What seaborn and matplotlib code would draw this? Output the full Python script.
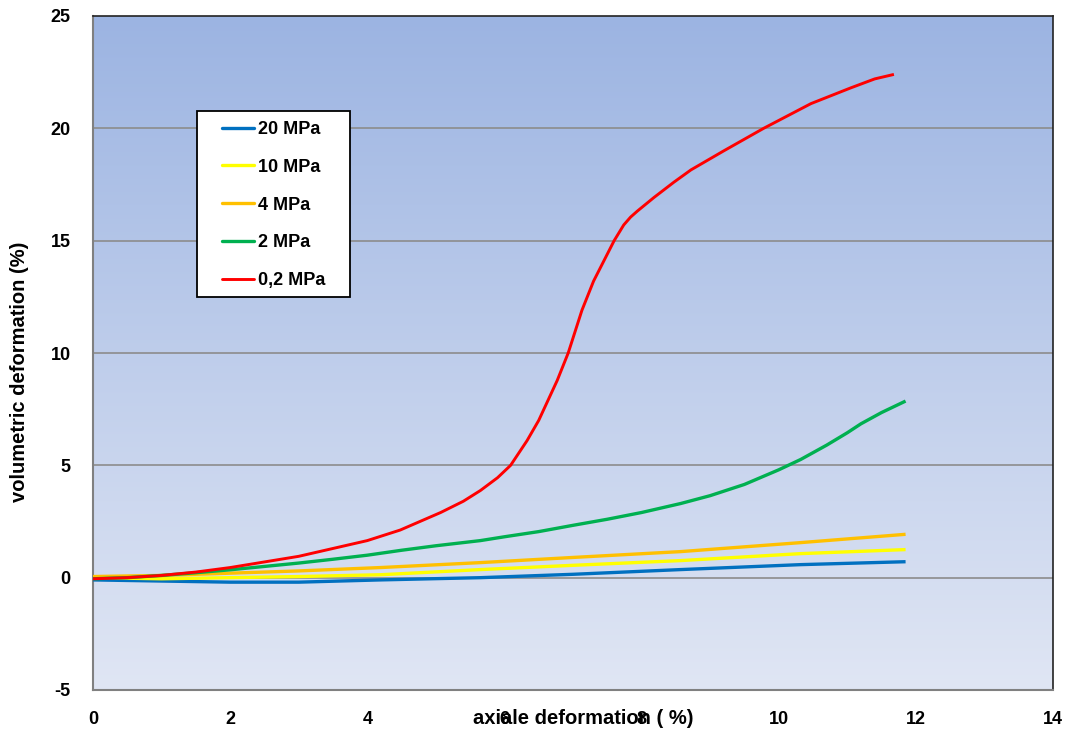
import numpy as np
import pandas as pd
import matplotlib
matplotlib.use("Agg")
import matplotlib.pyplot as plt
from matplotlib.patches import Rectangle
from matplotlib.colors import LinearSegmentedColormap
import seaborn as sns

# Axial deformation (%) vs volumetric deformation (%) per confining pressure
x_20 = [0, 1, 2, 3, 4.19, 5.65, 7, 8.57, 10.32, 11.85]
y_20 = [-0.1, -0.15, -0.2, -0.2, -0.1, 0.0, 0.15, 0.36, 0.58, 0.71]

x_10 = [0, 1, 2, 3, 4.19, 5.65, 7, 8.57, 10.32, 11.85]
y_10 = [0.0, -0.05, 0.0, 0.05, 0.13, 0.36, 0.55, 0.76, 1.07, 1.25]

x_4 = [0, 1, 2, 3, 4.19, 5.65, 7, 8.57, 10.32, 11.85]
y_4 = [0.05, 0.1, 0.2, 0.3, 0.45, 0.67, 0.9, 1.16, 1.56, 1.93]

x_2 = [0, 0.5, 1, 1.5, 2, 2.5, 3, 3.5, 4, 4.5, 5, 5.65, 6, 6.5, 7, 7.5, 8,
       8.57, 9, 9.5, 10, 10.32, 10.7, 11.0, 11.2, 11.5, 11.85]
y_2 = [-0.05, 0.0, 0.1, 0.22, 0.35, 0.5, 0.65, 0.82, 1.0, 1.22, 1.42, 1.65,
       1.82, 2.05, 2.33, 2.6, 2.9, 3.3, 3.65, 4.15, 4.8, 5.26, 5.9, 6.45,
       6.85, 7.35, 7.86]

x_02 = [0, 0.5, 1, 1.5, 2, 2.5, 3, 3.5, 4, 4.48, 5.07, 5.4, 5.65, 5.9, 6.09,
        6.33, 6.5, 6.77, 6.93, 7.13, 7.3, 7.45, 7.6, 7.74, 7.84, 7.94, 8.18,
        8.47, 8.72, 9.2, 9.78, 10.47, 11.05, 11.4, 11.68]
y_02 = [-0.05, 0.0, 0.1, 0.25, 0.45, 0.7, 0.95, 1.3, 1.65, 2.12, 2.9, 3.4,
        3.88, 4.45, 5.0, 6.1, 7.0, 8.78, 10.0, 11.9, 13.2, 14.1, 15.0, 15.7,
        16.05, 16.32, 16.92, 17.6, 18.15, 19.0, 20.0, 21.1, 21.8, 22.2, 22.4]

labels = ["20 MPa", "10 MPa", "4 MPa", "2 MPa", "0,2 MPa"]
colors = ["#0070c0", "#ffff00", "#ffc000", "#00b050", "#ff0000"]
x_ticks = [0, 2, 4, 6, 8, 10, 12, 14]
y_ticks = [-5, 0, 5, 10, 15, 20, 25]

series = [(x_20, y_20), (x_10, y_10), (x_4, y_4), (x_2, y_2), (x_02, y_02)]
frames = []
for lab, (xs, ys) in zip(labels, series):
    frames.append(pd.DataFrame({"axial": xs, "vol": ys, "pressure": lab}))
df = pd.concat(frames, ignore_index=True)

sns.set_style("white")
plt.rcParams["font.family"] = ["Liberation Sans", "DejaVu Sans"]
plt.rcParams["font.weight"] = "bold"
plt.rcParams["text.color"] = "black"
plt.rcParams["xtick.color"] = "black"
plt.rcParams["ytick.color"] = "black"

fig = plt.figure(figsize=(10.66, 7.31), dpi=100)
ax = fig.add_axes([93 / 1066, 41 / 731, 960 / 1066, 674 / 731])

# vertical blue gradient for the plot area
grad = np.linspace(0, 1, 256).reshape(-1, 1)
cmap = LinearSegmentedColormap.from_list("bg", ["#e0e6f4", "#9cb4e2"])
ax.imshow(grad, cmap=cmap, aspect="auto", origin="lower",
          extent=[0, 1, 0, 1], transform=ax.transAxes, zorder=0)

sns.lineplot(data=df, x="axial", y="vol", hue="pressure", hue_order=labels,
             palette=colors, sort=False, estimator=None,
             ax=ax, legend=False, zorder=3)
for line, lab in zip(ax.get_lines(), labels):
    line.set_linewidth(2.1 if lab == "0,2 MPa" else 2.4)
    line.set_solid_capstyle("butt")
    line.set_solid_joinstyle("round")

ax.set_xlim(0, 14)
ax.set_ylim(-5, 25)
ax.set_xticks(x_ticks)
ax.set_yticks(y_ticks)
ax.set_xticklabels([str(v) for v in x_ticks], fontsize=13, fontweight="bold")
ax.set_yticklabels([str(v) for v in y_ticks], fontsize=13, fontweight="bold")
ax.tick_params(axis="both", direction="out", length=5, width=1.2,
               color="#808080", labelcolor="black")
ax.tick_params(axis="y", pad=11)
ax.tick_params(axis="x", pad=10)

for yv in [0, 5, 10, 15, 20]:
    ax.axhline(yv, color="#8c8c8c", linewidth=1.2, zorder=1)

for side in ["left", "bottom"]:
    ax.spines[side].set_color("#808080")
    ax.spines[side].set_linewidth(1.5)
for side in ["top", "right"]:
    ax.spines[side].set_color("#222222")
    ax.spines[side].set_linewidth(1.2)

ax.set_xlabel("")
ax.set_ylabel("")
fig.text(583 / 1066, 1 - 719 / 731, "axiale deformation ( %)", ha="center",
         va="center", fontsize=14.5, fontweight="bold", color="black")
fig.text(20 / 1066, 1 - 372 / 731, "volumetric deformation (%)", ha="center",
         va="center", rotation=90, fontsize=14.5, fontweight="bold",
         color="black")

# legend box
def ax_frac(px, py):
    return ((px - 93) / 960, (715 - py) / 674)

x0, y0 = ax_frac(197, 322)
x1, y1 = ax_frac(350, 136)
ax.add_patch(Rectangle((x0, y0), x1 - x0, y1 - y0, transform=ax.transAxes,
                       facecolor="white", edgecolor="black", linewidth=1.3,
                       zorder=5))
handles = [plt.Line2D([], [], color=c, linewidth=2.4 if l != "0,2 MPa" else 2.1)
           for c, l in zip(colors, labels)]
lx, ly = ax_frac(222, 146)
leg = ax.legend(handles, labels, loc="upper left", bbox_to_anchor=(lx, ly),
                frameon=False, borderpad=0, borderaxespad=0,
                handlelength=1.75, handletextpad=0.25, labelspacing=1.15,
                prop={"size": 13, "weight": "bold"})
for t in leg.get_texts():
    t.set_color("black")
leg.set_zorder(6)

fig.savefig("out.png", dpi=100)
